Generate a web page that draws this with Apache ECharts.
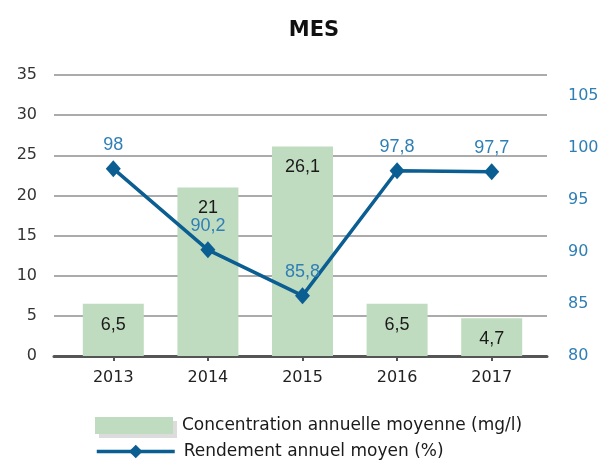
<!DOCTYPE html>
<html>
<head>
<meta charset="utf-8">
<title>MES</title>
<script src="https://cdn.jsdelivr.net/npm/echarts@6/dist/echarts.min.js"></script>
<style>
  html, body { margin: 0; padding: 0; background: #fff; }
  #chart { width: 607px; height: 460px; }
</style>
</head>
<body>
<div id="chart"></div>
<script>
'use strict';

const years = ['2013', '2014', '2015', '2016', '2017'];
const concentration = [6.5, 21, 26.1, 6.5, 4.7];
const rendement = [98, 90.2, 85.8, 97.8, 97.7];
const concName = 'Concentration annuelle moyenne (mg/l)';
const rendName = 'Rendement annuel moyen (%)';

const FONT = 'DejaVu Sans';
const frNum = (v) => String(v).replace('.', ',');

// grid 0 holds the wide gridlines / axes, grid 1 holds the data (narrower, like the Excel plot)
const plotTop = 75, plotBottom = 104;
const leftScale = { min: 0, max: 35, interval: 5 };
const rightScale = { min: 80, max: 107, interval: 5 };

const legendText = { fontFamily: FONT, fontSize: 17, color: '#1a1a1a', padding: [0, 0, 0, 4] };

const chart = echarts.init(document.getElementById('chart'), null, { renderer: 'canvas' });

chart.setOption({
  backgroundColor: '#fff',
  animation: false,
  title: {
    text: 'MES',
    left: 309,
    top: 15,
    textAlign: 'center',
    textStyle: { fontFamily: FONT, fontSize: 21, fontWeight: 'bold', color: '#111' },
  },
  // one legend per row so they stack like the original
  legend: [
    {
      left: 90, top: 412, itemWidth: 78, itemHeight: 17, icon: 'rect',
      textStyle: legendText,
      data: [{ name: concName, itemStyle: { shadowColor: '#dcdcdc', shadowOffsetX: 4, shadowOffsetY: 4 } }],
    },
    {
      left: 90, top: 438, itemWidth: 78, itemHeight: 17,
      textStyle: legendText,
      lineStyle: { width: 3.5 },
      data: [{ name: rendName }],
    },
  ],
  grid: [
    { left: 54, right: 60, top: plotTop, bottom: plotBottom },
    { left: 66, right: 68, top: plotTop, bottom: plotBottom },
  ],
  xAxis: [
    {
      type: 'category', gridIndex: 0, data: years,
      axisLine: { show: true, lineStyle: { color: '#555', width: 3 } },
      axisTick: { show: false },
      axisLabel: { show: false },
    },
    {
      type: 'category', gridIndex: 1, data: years,
      axisLine: { show: false },
      axisTick: { show: true, alignWithLabel: true, length: 5, lineStyle: { color: '#555', width: 2 } },
      axisLabel: { fontFamily: FONT, fontSize: 16, color: '#222', margin: 14 },
    },
  ],
  yAxis: [
    {
      type: 'value', gridIndex: 0, position: 'left', ...leftScale,
      axisLine: { show: false }, axisTick: { show: false },
      axisLabel: { fontFamily: FONT, fontSize: 16, color: '#333', margin: 17 },
      splitLine: { lineStyle: { color: '#ababab', width: 2 } },
    },
    {
      type: 'value', gridIndex: 0, position: 'right', ...rightScale,
      axisLine: { show: false }, axisTick: { show: false },
      axisLabel: {
        fontFamily: FONT, fontSize: 16, color: '#2f7fb5', margin: 21,
        showMaxLabel: false,
        formatter: (v) => (v % 5 === 0 ? String(v) : ''),
      },
      splitLine: { show: false },
    },
    { type: 'value', gridIndex: 1, ...leftScale, show: false },
    { type: 'value', gridIndex: 1, ...rightScale, show: false },
  ],
  series: [
    {
      name: concName,
      type: 'bar',
      xAxisIndex: 1,
      yAxisIndex: 2,
      barWidth: 61,
      data: concentration,
      itemStyle: { color: '#c0dcc0' },
      label: {
        show: true,
        position: 'insideTop',
        distance: 12,
        formatter: (p) => frNum(p.value),
        fontFamily: 'Liberation Sans',
        fontSize: 18,
        color: '#1a1a1a',
      },
    },
    {
      name: rendName,
      type: 'line',
      xAxisIndex: 1,
      yAxisIndex: 3,
      data: rendement,
      symbol: 'diamond',
      symbolSize: [15, 17],
      lineStyle: { color: '#0b5e91', width: 3.5 },
      itemStyle: { color: '#0b5e91' },
      label: {
        show: true,
        position: 'top',
        distance: 6,
        formatter: (p) => frNum(p.value),
        fontFamily: 'Liberation Sans',
        fontSize: 18,
        color: '#2f7fb5',
      },
      z: 5,
    },
  ],
});

window.addEventListener('resize', () => chart.resize());
</script>
</body>
</html>
